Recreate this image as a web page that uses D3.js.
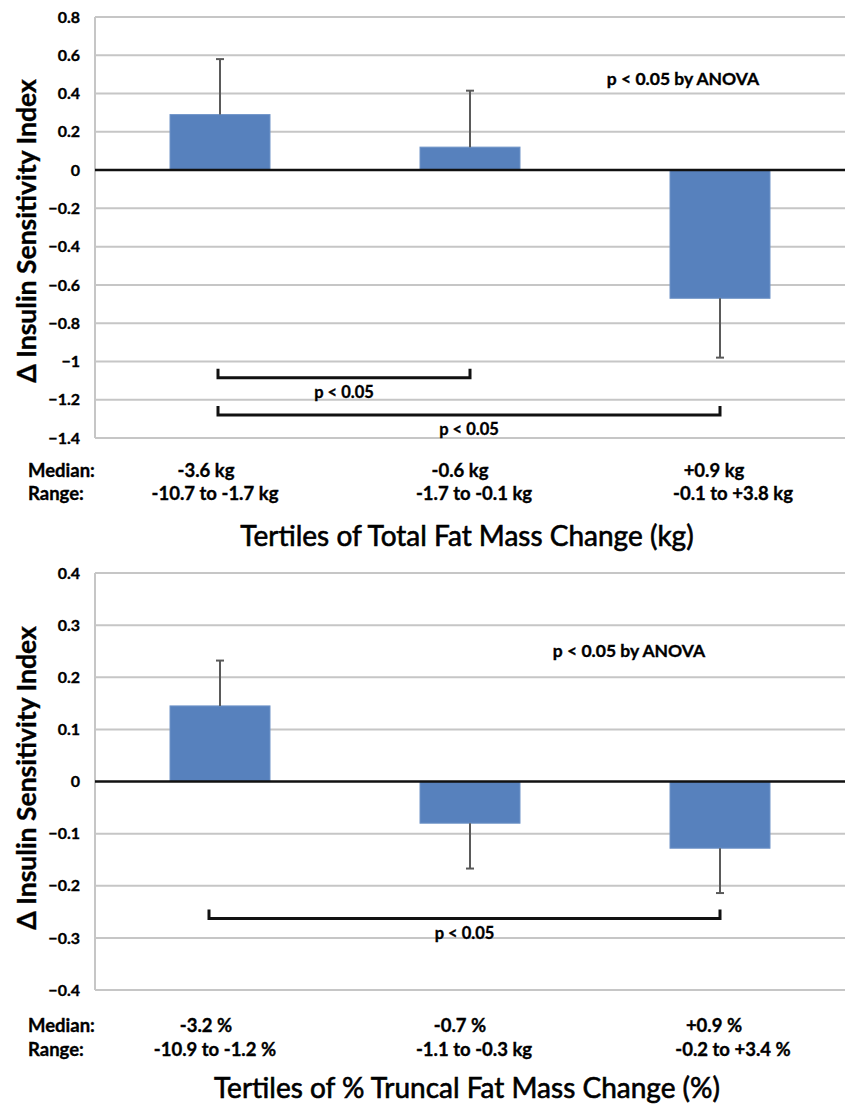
<!DOCTYPE html>
<html><head><meta charset="utf-8">
<script src="https://cdn.jsdelivr.net/npm/d3@7"></script>
<style>
body{margin:0;background:#fff}
svg{display:block}
text{font-family:Lato,"Open Sans","DejaVu Sans",sans-serif;fill:#000}
</style>
</head><body><svg id="c" width="845" height="1104"></svg>
<script>
// ---------- data ----------
const categories = ["Tertile 1", "Tertile 2", "Tertile 3"];

const totalMeans = [0.29, 0.12, -0.67];
const totalSE = [0.29, 0.295, 0.31];
const totalTicks = [0.8, 0.6, 0.4, 0.2, 0, -0.2, -0.4, -0.6, -0.8, -1, -1.2, -1.4];
const totalMedians = ["-3.6 kg", "-0.6 kg", "+0.9 kg"];
const totalRanges = ["-10.7 to -1.7 kg", "-1.7 to -0.1 kg", "-0.1 to +3.8 kg"];
const totalBrackets = [
  {from: 0, to: 1, level: -1.085, label: "p < 0.05"},
  {from: 0, to: 2, level: -1.28, label: "p < 0.05"}
];
const totalTitle = "Tertiles of Total Fat Mass Change (kg)";

const truncalMeans = [0.145, -0.08, -0.128];
const truncalSE = [0.087, 0.087, 0.086];
const truncalTicks = [0.4, 0.3, 0.2, 0.1, 0, -0.1, -0.2, -0.3, -0.4];
const truncalMedians = ["-3.2 %", "-0.7 %", "+0.9 %"];
const truncalRanges = ["-10.9 to -1.2 %", "-1.1 to -0.3 kg", "-0.2 to +3.4 %"];
const truncalBrackets = [
  {from: 0, to: 2, level: -0.263, label: "p < 0.05"}
];
const truncalTitle = "Tertiles of % Truncal Fat Mass Change (%)";

const yTitle = "\u0394 Insulin Sensitivity Index";
const anovaNote = "p < 0.05 by ANOVA";

// ---------- drawing ----------
const svg = d3.select("#c");

function boldText(sel, size) {
  return sel.attr("font-size", size).attr("font-weight", 700)
    .attr("stroke", "#000").attr("stroke-width", 0.35);
}

function panel(opt) {
  const g = svg.append("g");
  const x = d3.scaleBand().domain(categories).range([95, 845])
    .paddingInner(0.6).paddingOuter(0.3);
  const y = d3.scaleLinear().domain(d3.extent(opt.ticks)).range([opt.bottom, opt.top]);
  const cx = i => x(categories[i]) + x.bandwidth() / 2;

  // gridlines
  g.append("g").selectAll("line").data(opt.ticks.filter(t => t !== 0)).join("line")
    .attr("x1", 95).attr("x2", 845)
    .attr("y1", d => y(d)).attr("y2", d => y(d))
    .attr("stroke", "#c6c6c6").attr("stroke-width", 2);
  // left axis line
  g.append("line").attr("x1", 95).attr("x2", 95)
    .attr("y1", opt.top).attr("y2", opt.bottom)
    .attr("stroke", "#c6c6c6").attr("stroke-width", 2);

  // tick labels via axis
  const ax = g.append("g").attr("transform", "translate(95,0)")
    .call(d3.axisLeft(y).tickValues(opt.ticks).tickSize(0).tickPadding(15)
      .tickFormat(d => d3.format("")(+d.toFixed(2))));
  ax.select(".domain").remove();
  boldText(ax.selectAll("text").attr("font-family", "Lato").attr("fill", "#000"), 16);

  // bars
  g.append("g").selectAll("rect").data(opt.means).join("rect")
    .attr("x", (d, i) => x(categories[i]))
    .attr("width", x.bandwidth())
    .attr("y", d => Math.min(y(d), y(0)))
    .attr("height", d => Math.abs(y(d) - y(0)))
    .attr("fill", "#5781bd")
    .attr("stroke", "#7094c8").attr("stroke-width", 1);

  // error bars (outward only)
  const eb = g.append("g").attr("stroke", "#5a5a5a").attr("stroke-width", 2);
  opt.means.forEach((m, i) => {
    const end = m + Math.sign(m) * opt.se[i];
    eb.append("line").attr("x1", cx(i)).attr("x2", cx(i))
      .attr("y1", y(m)).attr("y2", y(end));
    eb.append("line").attr("x1", cx(i) - 4).attr("x2", cx(i) + 4)
      .attr("y1", y(end)).attr("y2", y(end));
  });

  // zero line
  g.append("line").attr("x1", 95).attr("x2", 845)
    .attr("y1", y(0)).attr("y2", y(0))
    .attr("stroke", "#111").attr("stroke-width", 2.5);

  // significance brackets
  opt.brackets.forEach(b => {
    const yy = y(b.level), x1 = cx(b.from) - opt.bracketInset, x2 = cx(b.to);
    g.append("path")
      .attr("d", `M${x1},${yy - 9}V${yy}H${x2}V${yy - 9}`)
      .attr("fill", "none").attr("stroke", "#111").attr("stroke-width", 3);
    boldText(g.append("text").attr("x", (x1 + x2) / 2).attr("y", yy + 14)
      .attr("text-anchor", "middle").attr("dominant-baseline", "central"), 16.5)
      .text(b.label);
  });

  // ANOVA note
  boldText(g.append("text").attr("x", opt.noteX).attr("y", opt.noteY)
    .attr("text-anchor", "middle").attr("dominant-baseline", "central"), 17.5)
    .text(anovaNote);

  // y title
  boldText(g.append("text")
    .attr("transform", `translate(26,${opt.titleY}) rotate(-90)`)
    .attr("text-anchor", "middle").attr("dominant-baseline", "central"), 26.5)
    .text(yTitle);

  // median / range rows
  const rowY1 = opt.bottom + opt.row1, rowY2 = opt.bottom + opt.row2;
  boldText(g.append("text").attr("x", 28).attr("y", rowY1)
    .attr("dominant-baseline", "central"), 18.5).text("Median:");
  boldText(g.append("text").attr("x", 28).attr("y", rowY2)
    .attr("dominant-baseline", "central"), 18.5).text("Range:");
  boldText(g.append("g").selectAll("text").data(opt.medians).join("text")
    .attr("x", (d, i) => cx(i) - 14 + i * 4).attr("y", rowY1)
    .attr("text-anchor", "middle").attr("dominant-baseline", "central"), 18.5)
    .text(d => d);
  boldText(g.append("g").selectAll("text").data(opt.ranges).join("text")
    .attr("x", (d, i) => cx(i) - 5 + i * 9).attr("y", rowY2)
    .attr("text-anchor", "middle").attr("dominant-baseline", "central"), 18.5)
    .text(d => d);

  // x title
  g.append("text").attr("x", 467).attr("y", opt.bottom + 97)
    .attr("text-anchor", "middle").attr("dominant-baseline", "central")
    .attr("font-size", 28).attr("font-weight", 400)
    .attr("stroke", "#000").attr("stroke-width", 0.6).text(opt.title);
}

panel({top: 17, bottom: 438, ticks: totalTicks, means: totalMeans, se: totalSE,
  brackets: totalBrackets, medians: totalMedians, ranges: totalRanges,
  title: totalTitle, noteX: 683, noteY: 78, titleY: 231, row1: 32, row2: 55,
  bracketInset: 2});
panel({top: 573, bottom: 990, ticks: truncalTicks, means: truncalMeans, se: truncalSE,
  brackets: truncalBrackets, medians: truncalMedians, ranges: truncalRanges,
  title: truncalTitle, noteX: 629, noteY: 650, titleY: 778, row1: 35, row2: 59,
  bracketInset: 11});
</script>
</body></html>
